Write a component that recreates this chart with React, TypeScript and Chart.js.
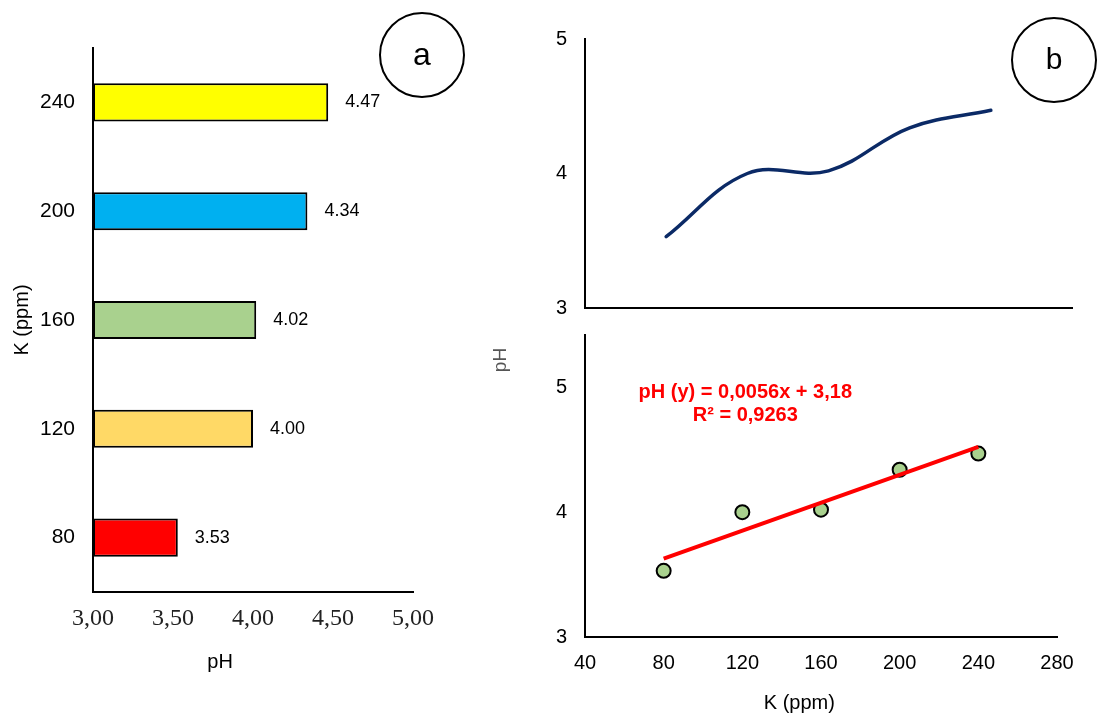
import React, { useEffect, useRef } from 'react';
import { Chart, registerables } from 'chart.js';

Chart.register(...registerables);

// ---------- data ----------
const kCategories = [80, 120, 160, 200, 240];
const phValues = [3.53, 4.0, 4.02, 4.34, 4.47];
const barColors = ['#FF0000', '#FFD966', '#A9D18E', '#00B0F0', '#FFFF00'];
const trendSlope = 0.0056;
const trendIntercept = 3.18;
const trendRange = [80, 240];
const equationLines = ['pH (y) = 0,0056x + 3,18', 'R\u00B2 = 0,9263'];
const kTitle = 'K (ppm)';
const phTitle = 'pH';

const SANS = "'Liberation Sans', Arial, sans-serif";
const SERIF = "'Liberation Serif', 'Times New Roman', serif";
const W = 1100;
const H = 716;

const axisBorder = { display: true, color: '#000', width: 2 };
const noGrid = { display: false, drawTicks: false };

function drawText(ctx: CanvasRenderingContext2D, text: string, x: number, y: number, font: string, color: string, rot = 0, align: CanvasTextAlign = 'center') {
  ctx.save();
  ctx.translate(x, y);
  if (rot) ctx.rotate(rot);
  ctx.font = font;
  ctx.fillStyle = color;
  ctx.textAlign = align;
  ctx.textBaseline = 'middle';
  ctx.fillText(text, 0, 0);
  ctx.restore();
}

function drawBadge(ctx: CanvasRenderingContext2D, cx: number, cy: number, r: number, letter: string, size: number) {
  ctx.save();
  ctx.beginPath();
  ctx.arc(cx, cy, r, 0, Math.PI * 2);
  ctx.lineWidth = 2;
  ctx.strokeStyle = '#000';
  ctx.stroke();
  ctx.restore();
  drawText(ctx, letter, cx, cy + 1, `${size}px ${SANS}`, '#000');
}

export default function App() {
  const refA = useRef<HTMLCanvasElement>(null);
  const refB1 = useRef<HTMLCanvasElement>(null);
  const refB2 = useRef<HTMLCanvasElement>(null);

  useEffect(() => {
    Chart.defaults.font.family = SANS;

    // ----- panel a: horizontal bars -----
    const chartA = new Chart(refA.current!, {
      type: 'bar',
      data: {
        labels: kCategories.map(String),
        datasets: [
          {
            data: phValues,
            backgroundColor: barColors,
            borderColor: '#000',
            borderWidth: 2,
            borderSkipped: false,
            base: 3,
            barPercentage: 0.35,
            categoryPercentage: 1,
          } as any,
        ],
      },
      options: {
        responsive: false,
        animation: false,
        indexAxis: 'y',
        layout: { padding: { left: 13, right: 687, top: 48, bottom: 64 } },
        plugins: { legend: { display: false }, tooltip: { enabled: false } },
        scales: {
          x: {
            type: 'linear',
            min: 3,
            max: 5,
            ticks: {
              stepSize: 0.5,
              callback: (v: any) => Number(v).toFixed(2).replace('.', ','),
              font: { family: SERIF, size: 24 },
              color: '#222',
              padding: 12,
            },
            grid: noGrid,
            border: axisBorder,
            afterFit: (s: any) => { s.height = 60; },
          },
          y: {
            reverse: true,
            ticks: { font: { size: 21 }, color: '#000', padding: 18 },
            grid: noGrid,
            border: axisBorder,
            afterFit: (s: any) => { s.width = 80; },
          },
        },
      },
      plugins: [
        {
          id: 'extrasA',
          afterDraw(chart: any) {
            const ctx = chart.ctx;
            const meta = chart.getDatasetMeta(0);
            meta.data.forEach((bar: any, i: number) => {
              drawText(ctx, phValues[i].toFixed(2), bar.x + 17, bar.y, `18px ${SANS}`, '#000', 0, 'left');
            });
            const { left, right, top, bottom } = chart.chartArea;
            drawText(ctx, kTitle, 22, (top + bottom) / 2, `20px ${SANS}`, '#000', -Math.PI / 2);
            drawText(ctx, phTitle, left + (right - left) * 0.397, 662, `20px ${SANS}`, '#000');
            drawBadge(ctx, 422, 55, 42, 'a', 32);
          },
        },
      ],
    });

    // ----- panel b top: smoothed line -----
    const chartB1 = new Chart(refB1.current!, {
      type: 'line',
      data: {
        datasets: [
          {
            data: kCategories.map((k, i) => ({ x: k, y: phValues[i] })),
            borderColor: '#0B2A66',
            borderWidth: 3.5,
            borderCapStyle: 'round',
            pointRadius: 0,
            tension: 0.38,
            fill: false,
          },
        ],
      },
      options: {
        responsive: false,
        animation: false,
        layout: { padding: { left: 525, right: 28, top: 39, bottom: 398 } },
        plugins: { legend: { display: false }, tooltip: { enabled: false } },
        scales: {
          x: {
            type: 'linear',
            min: 40,
            max: 280,
            ticks: { display: false },
            grid: noGrid,
            border: axisBorder,
            afterFit: (s: any) => { s.height = 10; },
          },
          y: {
            type: 'linear',
            min: 3,
            max: 5,
            ticks: { stepSize: 1, font: { size: 20 }, color: '#000', padding: 18 },
            grid: noGrid,
            border: axisBorder,
            afterFit: (s: any) => { s.width = 60; },
          },
        },
      },
      plugins: [
        {
          id: 'extrasB1',
          afterDraw(chart: any) {
            drawBadge(chart.ctx, 1054, 60, 42, 'b', 30);
          },
        },
      ],
    });

    // ----- panel b bottom: scatter + trendline -----
    const chartB2 = new Chart(refB2.current!, {
      type: 'scatter',
      data: {
        datasets: [
          {
            data: trendRange.map((x) => ({ x, y: trendIntercept + trendSlope * x })),
            showLine: true,
            borderColor: '#FF0000',
            borderWidth: 4,
            pointRadius: 0,
            order: 0,
          },
          {
            data: kCategories.map((k, i) => ({ x: k, y: phValues[i] })),
            backgroundColor: '#A9D18E',
            borderColor: '#000',
            borderWidth: 2,
            pointRadius: 7,
            order: 1,
          },
        ],
      },
      options: {
        responsive: false,
        animation: false,
        layout: { padding: { left: 525, right: 43, top: 335, bottom: 19 } },
        plugins: { legend: { display: false }, tooltip: { enabled: false } },
        scales: {
          x: {
            type: 'linear',
            min: 40,
            max: 280,
            ticks: { stepSize: 40, font: { size: 20 }, color: '#000', padding: 14 },
            grid: noGrid,
            border: axisBorder,
            afterFit: (s: any) => { s.height = 60; },
          },
          y: {
            type: 'linear',
            min: 3,
            max: 5.42,
            ticks: { stepSize: 1, includeBounds: false, font: { size: 20 }, color: '#000', padding: 18 },
            grid: noGrid,
            border: axisBorder,
            afterFit: (s: any) => { s.width = 60; },
          },
        },
      },
      plugins: [
        {
          id: 'extrasB2',
          afterDraw(chart: any) {
            const ctx = chart.ctx;
            const xs = chart.scales.x;
            const ys = chart.scales.y;
            const ex = xs.getPixelForValue(121.5);
            drawText(ctx, equationLines[0], ex, ys.getPixelForValue(4.96), `bold 20px ${SANS}`, '#FF0000');
            drawText(ctx, equationLines[1], ex, ys.getPixelForValue(4.776), `bold 20px ${SANS}`, '#FF0000');
            drawText(ctx, kTitle, xs.getPixelForValue(149), 703, `20px ${SANS}`, '#000');
            drawText(ctx, phTitle, 501, 360, `19px ${SANS}`, '#555', -Math.PI / 2);
          },
        },
      ],
    });

    return () => {
      chartA.destroy();
      chartB1.destroy();
      chartB2.destroy();
    };
  }, []);

  const cStyle: React.CSSProperties = { position: 'absolute', left: 0, top: 0, width: W, height: H, display: 'block' };
  return (
    <div style={{ position: 'fixed', left: 0, top: 0, width: W, height: H, background: '#fff' }}>
      <canvas ref={refA} width={W} height={H} style={cStyle} />
      <canvas ref={refB1} width={W} height={H} style={cStyle} />
      <canvas ref={refB2} width={W} height={H} style={cStyle} />
    </div>
  );
}
